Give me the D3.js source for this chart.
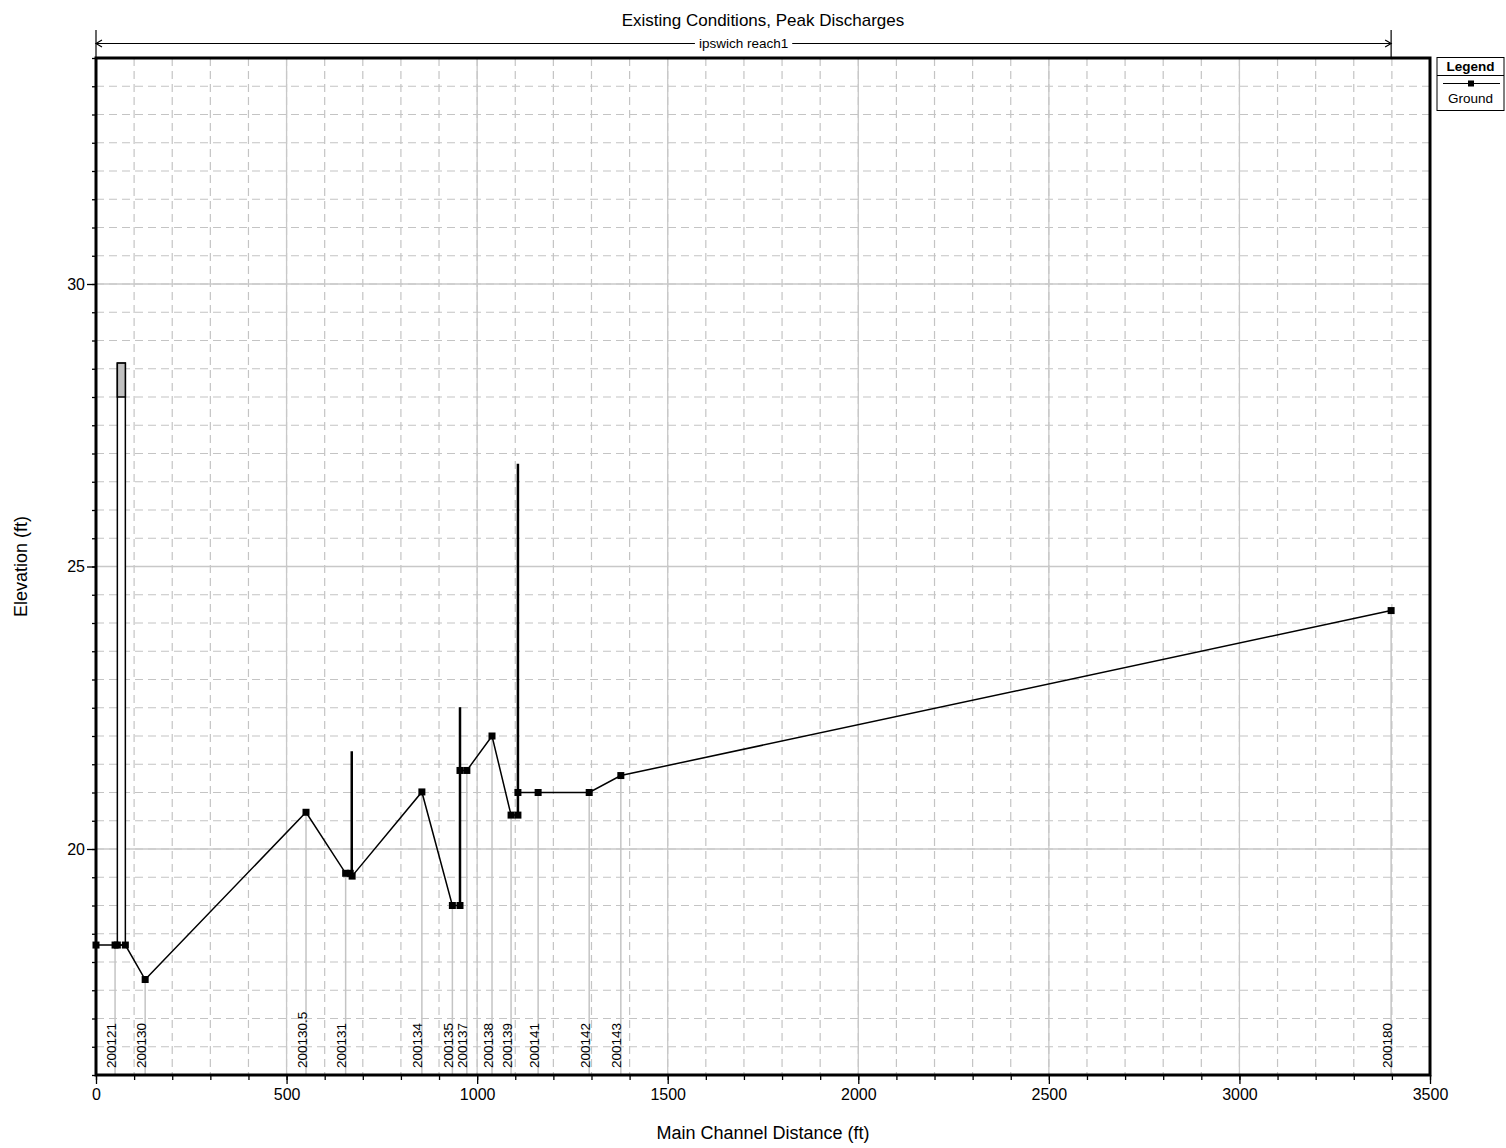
<!DOCTYPE html>
<html>
<head>
<meta charset="utf-8">
<script src="https://cdn.jsdelivr.net/npm/d3@7"></script>
<style>
  body { margin: 0; background: #fff; }
  text { font-family: Arial, "Liberation Sans", sans-serif; fill: #000; }
</style>
</head>
<body>
<svg id="svg1" width="1506" height="1148"></svg>
<script>
// ground profile (main channel distance ft, elevation ft)
var groundDist = [0, 50, 56, 77, 129, 551, 655, 667, 672, 855, 935, 955, 955, 973, 1039, 1089, 1107, 1107, 1160, 1294, 1377, 3398];
var groundElev = [18.3, 18.3, 18.3, 18.3, 17.69, 20.65, 19.57, 19.57, 19.52, 21.01, 19.0, 19.0, 21.39, 21.39, 22.0, 20.6, 20.6, 21.0, 21.0, 21.0, 21.3, 24.22];

// labelled river stations
var stationNames = ["200121", "200130", "200130.5", "200131", "200134", "200135", "200137", "200138", "200139", "200141", "200142", "200143", "200180"];
var stationDist = [50, 129, 551, 655, 855, 935, 973, 1039, 1089, 1160, 1294, 1377, 3398];

// inline structures drawn as vertical lines
var structDist = [671, 955, 1107];
var structLow = [19.52, 19.0, 20.6];
var structHigh = [21.73, 22.51, 26.82];

// bridge
var bridgeDist = [56, 77];
var bridgeGround = 18.3, bridgeLowChord = 28.0, bridgeHighChord = 28.6;

var xMajor = [0, 500, 1000, 1500, 2000, 2500, 3000, 3500];
var yMajor = [20, 25, 30];

var reachName = "ipswich reach1";

var svg = d3.select("#svg1"),
    pLeft = 96, pRight = 1430, pTop = 58, pBottom = 1075;

var x = d3.scaleLinear().domain([0, 3500]).range([pLeft, pRight]);
var y = d3.scaleLinear().domain([16, 34]).range([pBottom, pTop]);

var xMinor = d3.range(0, 3501, 100);
var yMinor = d3.range(16, 34.01, 0.5);

var grid = svg.append("g");

// minor dashed grid
grid.selectAll(".vminor").data(xMinor).enter().append("line")
  .attr("x1", function(d) { return x(d); }).attr("x2", function(d) { return x(d); })
  .attr("y1", pTop).attr("y2", pBottom)
  .attr("stroke", "#c4c4c4").attr("stroke-width", 1.2).attr("stroke-dasharray", "8,5");
grid.selectAll(".hminor").data(yMinor).enter().append("line")
  .attr("x1", pLeft).attr("x2", pRight)
  .attr("y1", function(d) { return y(d); }).attr("y2", function(d) { return y(d); })
  .attr("stroke", "#c4c4c4").attr("stroke-width", 1.2).attr("stroke-dasharray", "8,5");

// major solid grid
grid.selectAll(".vmajor").data(xMajor).enter().append("line")
  .attr("x1", function(d) { return x(d); }).attr("x2", function(d) { return x(d); })
  .attr("y1", pTop).attr("y2", pBottom)
  .attr("stroke", "#c8c8c8").attr("stroke-width", 1.3);
grid.selectAll(".hmajor").data(yMajor).enter().append("line")
  .attr("x1", pLeft).attr("x2", pRight)
  .attr("y1", function(d) { return y(d); }).attr("y2", function(d) { return y(d); })
  .attr("stroke", "#c8c8c8").attr("stroke-width", 1.3);

// station lines and labels
function elevAt(d) { return groundElev[groundDist.indexOf(d)]; }

svg.selectAll(".stline").data(stationDist).enter().append("line")
  .attr("x1", function(d) { return x(d); }).attr("x2", function(d) { return x(d); })
  .attr("y1", function(d) { return y(elevAt(d)); }).attr("y2", pBottom)
  .attr("stroke", "#c4c4c4").attr("stroke-width", 1.5);

svg.selectAll(".stlabel").data(stationNames).enter().append("text")
  .attr("transform", function(d, i) { return "translate(" + (x(stationDist[i]) + 0.5) + "," + 1068 + ") rotate(-90)"; })
  .attr("font-size", "13.5px")
  .text(function(d) { return d; });

// bridge
svg.append("rect")
  .attr("x", x(bridgeDist[0])).attr("width", x(bridgeDist[1]) - x(bridgeDist[0]))
  .attr("y", y(bridgeHighChord)).attr("height", y(bridgeGround) - y(bridgeHighChord))
  .attr("fill", "#fff").attr("stroke", "#000").attr("stroke-width", 1.5);
svg.append("rect")
  .attr("x", x(bridgeDist[0])).attr("width", x(bridgeDist[1]) - x(bridgeDist[0]))
  .attr("y", y(bridgeHighChord)).attr("height", y(bridgeLowChord) - y(bridgeHighChord))
  .attr("fill", "#c0c0c0").attr("stroke", "#000").attr("stroke-width", 1.5);

// inline structures
svg.selectAll(".struct").data(structDist).enter().append("line")
  .attr("x1", function(d) { return x(d); }).attr("x2", function(d) { return x(d); })
  .attr("y1", function(d, i) { return y(structLow[i]); })
  .attr("y2", function(d, i) { return y(structHigh[i]); })
  .attr("stroke", "#000").attr("stroke-width", 2.5);

// ground line
var line = d3.line()
  .x(function(d, i) { return x(groundDist[i]); })
  .y(function(d, i) { return y(groundElev[i]); });

svg.append("path")
  .datum(groundDist)
  .attr("d", line)
  .attr("fill", "none").attr("stroke", "#000").attr("stroke-width", 1.5);

svg.selectAll(".dot").data(groundDist).enter().append("rect")
  .attr("x", function(d) { return x(d) - 3.5; })
  .attr("y", function(d, i) { return y(groundElev[i]) - 3.5; })
  .attr("width", 7).attr("height", 7).attr("fill", "#000");

// axes
var yAxisMinor = d3.axisLeft(y).tickValues(yMinor).tickSize(4).tickFormat("");
var yAxis = d3.axisLeft(y).tickValues(yMajor).tickSize(9).tickPadding(2).tickFormat(d3.format("d"));
var xAxisMinor = d3.axisBottom(x).tickValues(xMinor).tickSize(5).tickFormat("");
var xAxis = d3.axisBottom(x).tickValues(xMajor).tickSize(9).tickPadding(5).tickFormat(d3.format("d"));

[svg.append("g").attr("transform", "translate(" + pLeft + ",0)").call(yAxisMinor),
 svg.append("g").attr("transform", "translate(" + pLeft + ",0)").call(yAxis),
 svg.append("g").attr("transform", "translate(0," + pBottom + ")").call(xAxisMinor),
 svg.append("g").attr("transform", "translate(0," + pBottom + ")").call(xAxis)]
  .forEach(function(g) {
    g.select(".domain").remove();
    g.selectAll(".tick line").attr("stroke", "#000").attr("stroke-width", 1.3);
    g.selectAll(".tick text").attr("font-size", "16px").attr("font-family", "Arial, 'Liberation Sans', sans-serif").attr("fill", "#000");
  });

// plot border
svg.append("rect")
  .attr("x", pLeft).attr("y", pTop).attr("width", pRight - pLeft).attr("height", pBottom - pTop)
  .attr("fill", "none").attr("stroke", "#000").attr("stroke-width", 3);

// titles
svg.append("text").attr("x", (pLeft + pRight) / 2).attr("y", 26)
  .attr("text-anchor", "middle").attr("font-size", "17px")
  .text("Existing Conditions, Peak Discharges");

svg.append("text").attr("x", (pLeft + pRight) / 2).attr("y", 1139)
  .attr("text-anchor", "middle").attr("font-size", "18px")
  .text("Main Channel Distance (ft)");

svg.append("text")
  .attr("transform", "translate(27," + ((pTop + pBottom) / 2) + ") rotate(-90)")
  .attr("text-anchor", "middle").attr("font-size", "18px")
  .text("Elevation (ft)");

// reach extent arrow
var ry = 43.5, rx0 = x(groundDist[0]), rx1 = x(groundDist[groundDist.length - 1]);
var reach = svg.append("g").attr("stroke", "#000").attr("stroke-width", 1.2).attr("fill", "none");
reach.append("line").attr("x1", rx0).attr("x2", rx1).attr("y1", ry).attr("y2", ry);
reach.append("line").attr("x1", rx0).attr("x2", rx0).attr("y1", 30).attr("y2", pTop);
reach.append("line").attr("x1", rx1).attr("x2", rx1).attr("y1", 30).attr("y2", pTop);
reach.append("path").attr("d", "M" + (rx0 + 6) + "," + (ry - 3.5) + "L" + rx0 + "," + ry + "L" + (rx0 + 6) + "," + (ry + 3.5));
reach.append("path").attr("d", "M" + (rx1 - 6) + "," + (ry - 3.5) + "L" + rx1 + "," + ry + "L" + (rx1 - 6) + "," + (ry + 3.5));

var rg = svg.append("g");
var rbg = rg.append("rect").attr("fill", "#fff");
var rlabel = rg.append("text").attr("x", (rx0 + rx1) / 2).attr("y", ry + 4.5)
  .attr("text-anchor", "middle").attr("font-size", "13.5px").text(reachName);
var bb = rlabel.node().getBBox();
rbg.attr("x", bb.x - 4).attr("y", bb.y).attr("width", bb.width + 8).attr("height", bb.height);

// legend
var lg = svg.append("g");
lg.append("rect").attr("x", 1437).attr("y", 57.5).attr("width", 67).attr("height", 53)
  .attr("fill", "#fff").attr("stroke", "#000").attr("stroke-width", 1);
lg.append("line").attr("x1", 1437).attr("x2", 1504).attr("y1", 75.5).attr("y2", 75.5)
  .attr("stroke", "#000").attr("stroke-width", 1);
lg.append("text").attr("x", 1470.5).attr("y", 71).attr("text-anchor", "middle")
  .attr("font-size", "13.5px").attr("font-weight", "bold").text("Legend");
lg.append("line").attr("x1", 1443).attr("x2", 1500).attr("y1", 83.5).attr("y2", 83.5)
  .attr("stroke", "#000").attr("stroke-width", 1.2);
lg.append("rect").attr("x", 1468).attr("y", 80.5).attr("width", 6).attr("height", 6).attr("fill", "#000");
lg.append("text").attr("x", 1470.5).attr("y", 102.5).attr("text-anchor", "middle")
  .attr("font-size", "13.5px").text("Ground");
</script>
</body>
</html>
